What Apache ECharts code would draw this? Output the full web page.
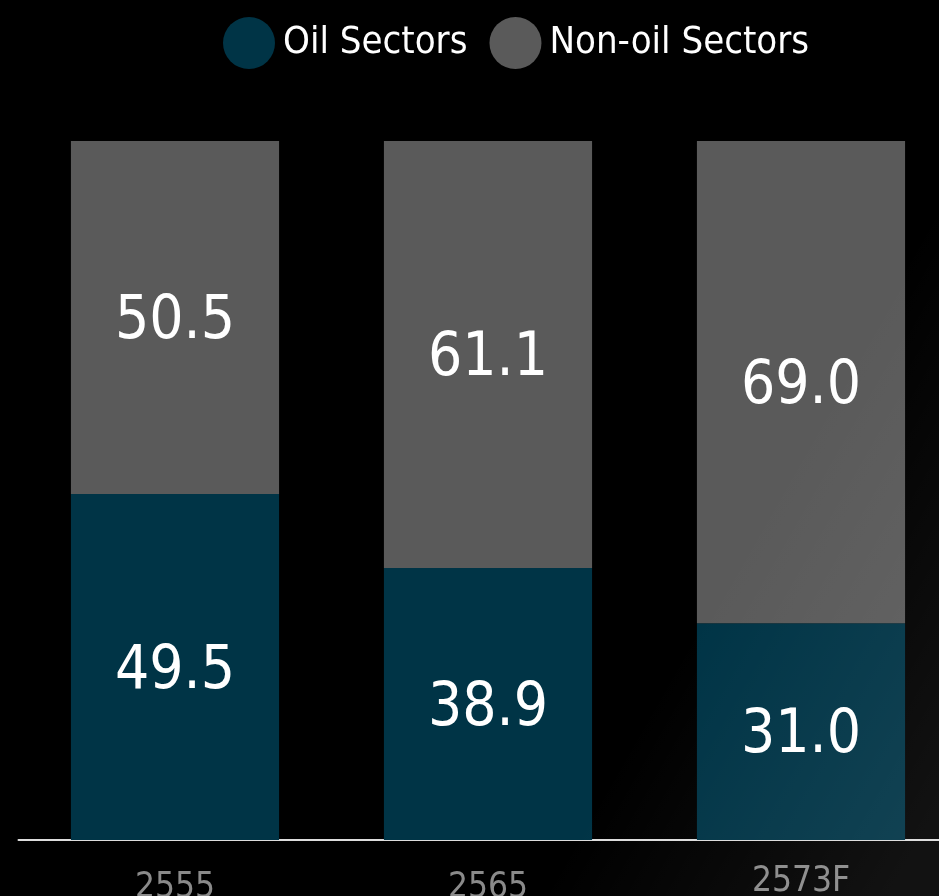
<!DOCTYPE html>
<html><head><meta charset="utf-8">
<script src="https://cdn.jsdelivr.net/npm/echarts@6/dist/echarts.min.js"></script>
<style>html,body{margin:0;padding:0;background:#000}#c{width:939px;height:896px}</style>
</head><body><div id="c"></div>
<script>
const categories = ['2555', '2565', '2573F'];
const oilValues = [49.5, 38.9, 31.0];
const nonOilValues = [50.5, 61.1, 69.0];
const seriesNames = ['Oil Sectors', 'Non-oil Sectors'];

const FONT = '"DejaVu Sans Condensed", "Liberation Sans Narrow", sans-serif';
const chart = echarts.init(document.getElementById('c'));
const labelStyle = {
  show: true, position: 'inside', color: '#ffffff', fontSize: 60, offset: [0, 5],
  fontFamily: FONT, formatter: p => p.value.toFixed(1)
};
chart.setOption({
  backgroundColor: '#000',
  animation: false,
  legend: {
    top: 12, left: 218, itemWidth: 52, itemHeight: 52, itemGap: 22, icon: 'circle',
    textStyle: {color: '#ffffff', fontSize: 38, fontFamily: FONT, padding: [0, 0, 0, 3]},
    data: seriesNames
  },
  grid: {left: 18.5, top: 141, right: -18.5, bottom: 56, outerBoundsMode: 'none', containLabel: false},
  xAxis: {
    type: 'category',
    data: categories.map((c, i) => i < 2 ? {value: c, textStyle: {padding: [6, 0, 0, 0]}} : c),
    axisLine: {lineStyle: {color: '#dddddd', width: 2}},
    axisTick: {show: false},
    axisLabel: {color: '#8a8a8a', fontSize: 35, fontFamily: FONT, margin: 24}
  },
  yAxis: {type: 'value', min: 0, max: 100, show: false},
  series: [
    {name: seriesNames[0], type: 'bar', stack: 's', data: oilValues, barWidth: '66.5%',
     itemStyle: {color: '#003446'}, label: labelStyle},
    {name: seriesNames[1], type: 'bar', stack: 's', data: nonOilValues, barWidth: '66.5%',
     itemStyle: {color: '#5a5a5a'}, label: labelStyle}
  ],
  graphic: [{
    type: 'rect', left: 0, top: 0, silent: true, z: 100,
    shape: {width: 939, height: 896},
    style: {
      fill: {
        type: 'linear', x: 0, y: 0.3, x2: 1, y2: 0.9,
        colorStops: [
          {offset: 0, color: 'rgba(255,255,255,0)'},
          {offset: 0.72, color: 'rgba(255,255,255,0)'},
          {offset: 1, color: 'rgba(255,255,255,0.07)'}
        ]
      }
    }
  }]
});
</script></body></html>
